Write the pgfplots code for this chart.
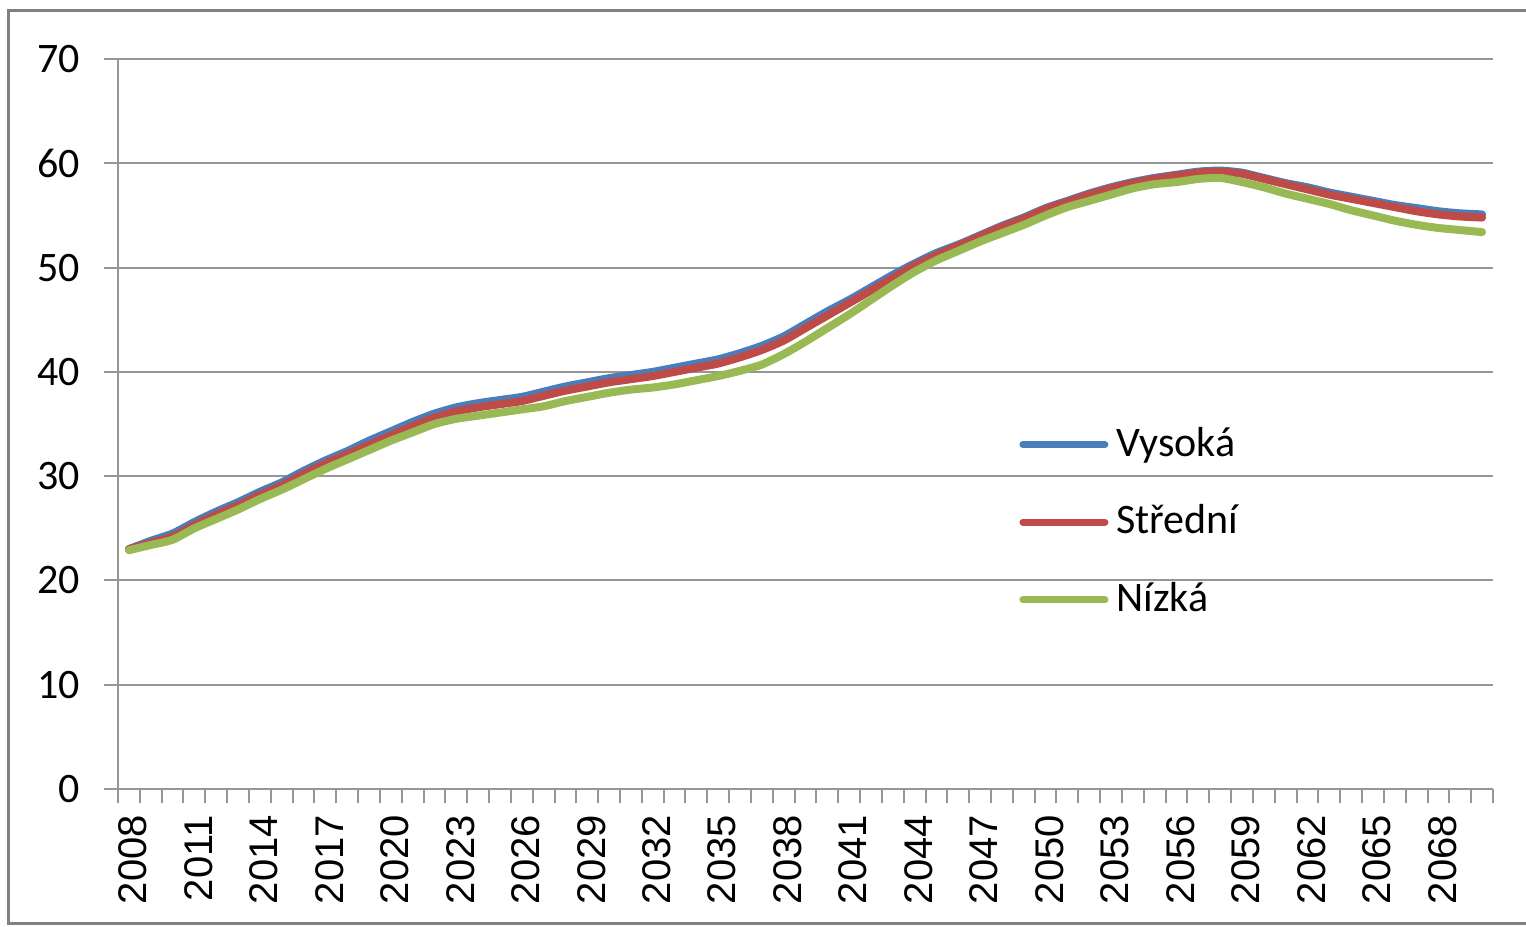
\documentclass[border=0pt]{standalone}
\usepackage{pgfplots}
\usepackage{pgfplotstable}
\pgfplotsset{compat=1.18}
\usepackage{fontspec}
\setmainfont{Carlito}
\newfontfamily\arialfont{Liberation Sans}
\definecolor{cblue}{RGB}{74,126,187}
\definecolor{cred}{RGB}{190,75,72}
\definecolor{cgreen}{RGB}{152,185,84}
\definecolor{cgrid}{RGB}{150,150,150}
\definecolor{cframe}{RGB}{128,128,128}

\pgfplotstableread{
year high mid low
2008 23.0 23.0 22.9
2009 23.8 23.6 23.4
2010 24.5 24.2 23.9
2011 25.6 25.3 25.0
2012 26.6 26.3 25.9
2013 27.5 27.2 26.8
2014 28.5 28.2 27.8
2015 29.4 29.1 28.7
2016 30.5 30.2 29.7
2017 31.5 31.2 30.7
2018 32.4 32.1 31.6
2019 33.4 33.0 32.5
2020 34.3 33.9 33.4
2021 35.2 34.8 34.2
2022 36.0 35.6 35.0
2023 36.6 36.2 35.5
2024 37.0 36.6 35.8
2025 37.3 36.9 36.1
2026 37.6 37.2 36.4
2027 38.1 37.7 36.7
2028 38.6 38.2 37.2
2029 39.0 38.6 37.6
2030 39.4 39.0 38.0
2031 39.7 39.3 38.3
2032 40.0 39.6 38.5
2033 40.4 40.0 38.8
2034 40.8 40.4 39.2
2035 41.2 40.8 39.6
2036 41.8 41.4 40.1
2037 42.5 42.1 40.7
2038 43.4 43.0 41.7
2039 44.6 44.2 42.9
2040 45.8 45.4 44.2
2041 46.9 46.6 45.5
2042 48.1 47.8 46.9
2043 49.3 49.0 48.3
2044 50.4 50.2 49.6
2045 51.4 51.2 50.7
2046 52.2 52.1 51.6
2047 53.1 53.0 52.5
2048 54.0 53.9 53.3
2049 54.8 54.7 54.1
2050 55.7 55.6 55.0
2051 56.4 56.3 55.8
2052 57.1 57.0 56.4
2053 57.7 57.6 57.0
2054 58.2 58.1 57.6
2055 58.6 58.5 58.0
2056 58.9 58.8 58.2
2057 59.2 59.1 58.5
2058 59.3 59.2 58.6
2059 59.1 59.0 58.2
2060 58.6 58.5 57.7
2061 58.1 58.0 57.1
2062 57.7 57.5 56.6
2063 57.2 57.0 56.1
2064 56.8 56.6 55.5
2065 56.4 56.2 55.0
2066 56.0 55.8 54.5
2067 55.7 55.4 54.1
2068 55.4 55.1 53.8
2069 55.2 54.9 53.6
2070 55.1 54.8 53.4
}\datatable

\begin{document}
\begin{tikzpicture}
\useasboundingbox (0pt,0pt) rectangle (381.5pt,231.5pt);
\draw[cframe, line width=0.75pt] (2pt,0.75pt) rectangle (392pt,229pt);
\begin{axis}[
  at={(29.5pt,34.25pt)}, anchor=south west,
  scale only axis, width=343.75pt, height=182.5pt,
  xmin=2007.5, xmax=2070.5, ymin=0, ymax=70,
  axis x line*=bottom, axis y line*=left,
  axis line style={cgrid, line width=0.5pt},
  ytick={0,10,...,70},
  xtick={2008,2011,...,2068},
  minor xtick={2007.5,2008.5,...,2070.5},
  every major x tick/.append style={draw=none},
  tick align=outside,
  major tick length=3.4pt, minor tick length=3.6pt,
  tick style={cgrid, line width=0.5pt},
  ymajorgrids, grid style={cgrid, line width=0.5pt},
  /pgf/number format/1000 sep={},
  /pgf/number format/assume math mode=true,
  xticklabel style={rotate=90, anchor=east, font=\arialfont\fontsize{10}{12}\selectfont, xshift=0.4pt, yshift=-1pt},
  yticklabel style={font=\fontsize{10.5}{12}\selectfont, xshift=-2.5pt},
  legend style={draw=none, fill=none, at={(0.655,0.508)}, anchor=north west,
    font=\fontsize{10.5}{12}\selectfont, row sep=6.6pt, inner sep=0pt},
  legend cell align=left,
  legend image code/.code={\draw[#1, line width=1.75pt, line cap=round] (0pt,0pt) -- (20.5pt,0pt);},
  clip=false,
]
\addplot[cblue, line width=2pt, smooth, tension=0.4, line cap=round] table[x=year, y=high] {\datatable};
\addlegendentry{Vysoká}
\addplot[cred, line width=2pt, smooth, tension=0.4, line cap=round] table[x=year, y=mid] {\datatable};
\addlegendentry{Střední}
\addplot[cgreen, line width=2pt, smooth, tension=0.4, line cap=round] table[x=year, y=low] {\datatable};
\addlegendentry{Nízká}
\end{axis}
\end{tikzpicture}
\end{document}
